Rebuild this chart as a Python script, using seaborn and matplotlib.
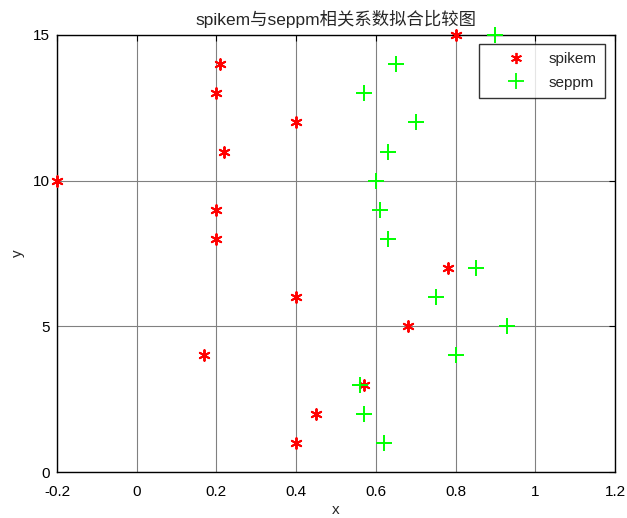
import numpy as np
import pandas as pd
import matplotlib
matplotlib.use("Agg")
import matplotlib.pyplot as plt
import seaborn as sns
from matplotlib.lines import Line2D

# y positions shared by both series
y_vals = list(range(15, 0, -1))
spikem_x = [0.80, 0.21, 0.20, 0.40, 0.22, -0.20, 0.20, 0.20, 0.78, 0.40, 0.68, 0.17, 0.57, 0.45, 0.40]
seppm_x = [0.90, 0.65, 0.57, 0.70, 0.63, 0.60, 0.61, 0.63, 0.85, 0.75, 0.93, 0.80, 0.56, 0.57, 0.62]
series_names = ["spikem", "seppm"]
x_ticks = [-0.2, 0, 0.2, 0.4, 0.6, 0.8, 1, 1.2]
x_tick_labels = ["-0.2", "0", "0.2", "0.4", "0.6", "0.8", "1", "1.2"]
y_ticks = [0, 5, 10, 15]

sns.set_style("white")
plt.rcParams["font.family"] = ["Liberation Sans", "Noto Sans CJK SC"]

df = pd.DataFrame({
    "x": spikem_x + seppm_x,
    "y": y_vals + y_vals,
    "series": [series_names[0]] * len(spikem_x) + [series_names[1]] * len(seppm_x),
})

fig = plt.figure(figsize=(6.27, 5.18), dpi=100)
ax = fig.add_axes([57 / 627, 1 - 472 / 518, (615 - 57) / 627, (472 - 35) / 518])

colors = {"spikem": "#ff0000", "seppm": "#00ff00"}
markers = {"spikem": (6, 2, 0), "seppm": "+"}
sizes = {"spikem": 60, "seppm": 130}
for name in series_names:
    sub = df[df["series"] == name]
    sns.scatterplot(data=sub, x="x", y="y", ax=ax, marker=markers[name],
                    color=colors[name], s=sizes[name], linewidth=1.4,
                    legend=False, zorder=3, clip_on=False)

ax.set_xlim(-0.2, 1.2)
ax.set_ylim(0, 15)
ax.set_xticks(x_ticks)
ax.set_xticklabels(x_tick_labels)
ax.set_yticks(y_ticks)
ax.grid(True, color="#808080", linewidth=0.8, linestyle="-")
ax.set_axisbelow(True)
ax.tick_params(direction="in", length=4, width=0.8, top=True, right=True,
               labelsize=11, colors="black")
ax.tick_params(axis="x", pad=9)
ax.tick_params(axis="y", pad=5)
for sp in ax.spines.values():
    sp.set_visible(True)
    sp.set_color("black")
    sp.set_linewidth(1.0)

ax.set_xlabel("x", fontsize=11, labelpad=3)
ax.set_ylabel("y", fontsize=11, labelpad=6)
ax.set_title("spikem与seppm相关系数拟合比较图", fontsize=12.5, pad=7)

handles = [
    Line2D([], [], linestyle="none", marker=markers[n], color=colors[n],
           markersize=8 if n == "spikem" else 11, markeredgewidth=1.3)
    for n in series_names
]
leg = ax.legend(handles, series_names, loc="upper left",
                bbox_to_anchor=((479 - 57) / 558, 1 - (44 - 35) / 437),
                fontsize=11, frameon=True, fancybox=False, edgecolor="black",
                handlelength=3.7, handletextpad=0.3, borderpad=0.55,
                labelspacing=0.6, borderaxespad=0)
leg.get_frame().set_linewidth(1.0)

fig.savefig("out.png", dpi=100, facecolor="white")
